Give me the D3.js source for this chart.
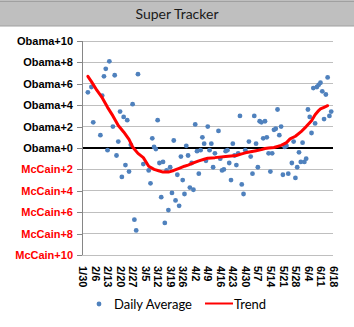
<!DOCTYPE html>
<html><head><meta charset="utf-8">
<script src="https://cdn.jsdelivr.net/npm/d3@7"></script>
<style>body{margin:0;background:#fff;}svg{display:block;}</style>
</head><body>
<script>
const dates = ["2/2","2/4","2/5","2/9","2/10","2/11","2/12","2/13","2/14","2/16","2/17","2/18","2/19","2/20","2/21","2/22","2/23","2/24","2/25","2/26","2/27","2/28","2/29","3/1","3/4","3/7","3/8","3/9","3/10","3/11","3/12","3/13","3/14","3/15","3/16","3/17","3/18","3/19","3/20","3/21","3/22","3/23","3/24","3/25","3/26","3/27","3/28","3/29","3/30","3/31","4/1","4/2","4/3","4/4","4/5","4/6","4/7","4/8","4/9","4/10","4/11","4/12","4/13","4/15","4/16","4/17","4/18","4/19","4/20","4/21","4/22","4/23","4/24","4/25","4/26","4/27","4/28","4/29","4/30","5/2","5/3","5/4","5/5","5/6","5/7","5/8","5/9","5/10","5/11","5/12","5/13","5/14","5/15","5/16","5/17","5/18","5/19","5/20","5/21","5/22","5/23","5/24","5/26","5/27","5/28","5/29","5/30","5/31","6/1","6/2","6/3","6/4","6/5","6/6","6/7","6/8","6/9","6/10","6/11","6/12","6/13","6/14","6/15","6/16","6/17"];
const dailyAverage = [5.2,5.7,2.4,1.2,4.9,6.7,7.4,-0.2,8.1,2.0,6.8,-0.7,0.6,3.4,-2.7,2.9,-1.6,2.6,-2.2,0.3,4.1,-6.7,-7.7,6.9,-1.5,-2.1,-3.3,0.9,0.1,-0.1,2.6,-1.4,-4.6,-1.3,-7.0,-2.1,-5.8,-1.8,-4.2,0.7,-4.9,-2.5,-5.4,-0.8,-3.0,-4.3,0.2,-0.7,-3.7,-1.4,-3.9,2.2,-0.3,-2.4,-0.2,1.0,0.4,-1.2,2.0,-0.2,0.4,-1.8,-0.5,1.6,-1.0,-2.1,-2.0,-0.3,-0.2,-1.4,-3.0,0.4,-0.7,-1.6,-0.5,3.0,-3.4,-4.3,-0.2,0.6,-0.8,-2.4,3.0,0.4,-1.8,2.5,2.4,0.9,2.5,1.0,-0.5,-2.2,-0.5,1.7,1.8,3.6,1.2,2.0,-2.5,0.1,0.2,-2.4,-1.4,0.6,-2.8,-1.8,-0.4,-1.3,0.5,-1.3,-1.0,3.6,2.9,1.4,5.6,2.3,5.7,5.9,6.1,5.3,2.7,5.0,6.6,3.0,3.4];
const trendDates = ["2/2","2/4","2/7","2/10","2/13","2/16","2/19","2/22","2/25","2/27","3/1","3/4","3/7","3/10","3/13","3/15","3/18","3/21","3/24","3/27","3/29","4/1","4/4","4/7","4/9","4/13","4/19","4/25","4/28","4/30","5/3","5/6","5/9","5/11","5/13","5/16","5/20","5/23","5/25","5/28","5/31","6/3","6/6","6/8","6/10","6/11","6/13","6/15"];
const trend = [6.7,6.2,5.4,4.7,3.8,3.0,2.1,1.5,0.8,0.1,-0.5,-0.9,-1.7,-2.0,-2.15,-2.25,-2.25,-2.1,-1.9,-1.7,-1.6,-1.4,-1.2,-1.05,-0.95,-0.9,-0.8,-0.7,-0.55,-0.45,-0.35,-0.25,-0.15,-0.05,0.0,0.05,0.25,0.5,0.85,1.1,1.5,2.0,2.55,3.1,3.5,3.65,3.8,3.95];
const xTickLabels = ["1/30","2/6","2/13","2/20","2/27","3/5","3/12","3/19","3/26","4/2","4/9","4/16","4/23","4/30","5/7","5/14","5/21","5/28","6/4","6/11","6/18"];
const yTicks = [-10,-8,-6,-4,-2,0,2,4,6,8,10];
const title = "Super Tracker";
const seriesNames = ["Daily Average","Trend"];

const parse = s => d3.timeParse("%m/%d/%Y")(s + "/2008");
const W = 354, H = 327;
const svg = d3.select("body").append("svg").attr("width", W).attr("height", H);

// title bar
svg.append("rect").attr("x",0).attr("y",0).attr("width",W).attr("height",26).attr("fill","#bfbfbf");
svg.append("line").attr("x1",0).attr("x2",W).attr("y1",1.5).attr("y2",1.5).attr("stroke","#a0a0a0");
svg.append("line").attr("x1",0).attr("x2",W).attr("y1",26).attr("y2",26).attr("stroke","#a0a0a0");
svg.append("text").attr("x",177).attr("y",19).attr("text-anchor","middle")
  .attr("font-family","Lato, 'Open Sans', sans-serif").attr("font-size",14).attr("fill","#1a1a1a").text(title);

const x = d3.scaleTime().domain([parse("1/30"), parse("6/18")]).range([82.5, 333]);
const y = d3.scaleLinear().domain([-10, 10]).range([255, 41]);
const left = 82, right = 333;

// gridlines
svg.append("g").selectAll("line").data(yTicks.filter(v => v !== 0 && v !== -10)).join("line")
  .attr("x1", left).attr("x2", right).attr("y1", d => y(d)).attr("y2", d => y(d))
  .attr("stroke","#bfbfbf").attr("stroke-width",1).attr("shape-rendering","crispEdges");

// y axis
const yAxis = d3.axisLeft(y).tickValues(yTicks).tickSize(5).tickPadding(4)
  .tickFormat(v => v >= 0 ? "Obama+" + v : "McCain+" + (-v));
const gy = svg.append("g").attr("transform", `translate(${left},0)`).call(yAxis);
gy.select(".domain").attr("stroke","#868686").attr("shape-rendering","crispEdges");
gy.selectAll(".tick line").attr("stroke","#868686").attr("shape-rendering","crispEdges");
gy.selectAll(".tick text").attr("font-family","'Liberation Sans', Arial, sans-serif").attr("font-weight","bold")
  .attr("font-size",11).attr("fill", d => d < 0 ? "#ff0000" : "#000");

// bottom axis line
svg.append("line").attr("x1", left).attr("x2", right).attr("y1", y(-10)).attr("y2", y(-10))
  .attr("stroke","#bfbfbf").attr("shape-rendering","crispEdges");

// x axis labels
const xAxis = d3.axisBottom(x).tickValues(xTickLabels.map(parse)).tickSize(0).tickFormat(d3.timeFormat("%-m/%-d"));
const gx = svg.append("g").attr("transform", `translate(0,${y(-10)})`).call(xAxis);
gx.select(".domain").remove();
gx.selectAll(".tick text").attr("font-family","'Liberation Sans', Arial, sans-serif").attr("font-weight","bold")
  .attr("font-size",11).attr("fill","#000")
  .attr("transform","rotate(90)").attr("text-anchor","start").attr("dy","0.35em").attr("x",11).attr("y",0);

// zero line
svg.append("line").attr("x1", left+1).attr("x2", right).attr("y1", y(0)).attr("y2", y(0))
  .attr("stroke","#000").attr("stroke-width",2);

// points
svg.append("g").selectAll("circle").data(dates.map((d,i)=>({d:parse(d), v:dailyAverage[i]}))).join("circle")
  .attr("cx", p => x(p.d)).attr("cy", p => y(p.v)).attr("r", 2.4).attr("fill","#4f81bd");

// trend
const line = d3.line().x(p => x(p.d)).y(p => y(p.v));
svg.append("path").datum(trendDates.map((d,i)=>({d:parse(d), v:trend[i]})))
  .attr("d", line).attr("fill","none").attr("stroke","#ff0000").attr("stroke-width",3)
  .attr("stroke-linejoin","round").attr("stroke-linecap","round");

// legend
const lg = svg.append("g").attr("font-family","Lato, 'Open Sans', sans-serif").attr("font-size",13).attr("fill","#000");
lg.append("circle").attr("cx",99).attr("cy",304).attr("r",2.4).attr("fill","#4f81bd");
lg.append("text").attr("x",114).attr("y",308.5).text(seriesNames[0]);
lg.append("line").attr("x1",205).attr("x2",233).attr("y1",303.5).attr("y2",303.5).attr("stroke","#ff0000").attr("stroke-width",2);
lg.append("text").attr("x",234).attr("y",308.5).text(seriesNames[1]);
</script>
</body></html>
